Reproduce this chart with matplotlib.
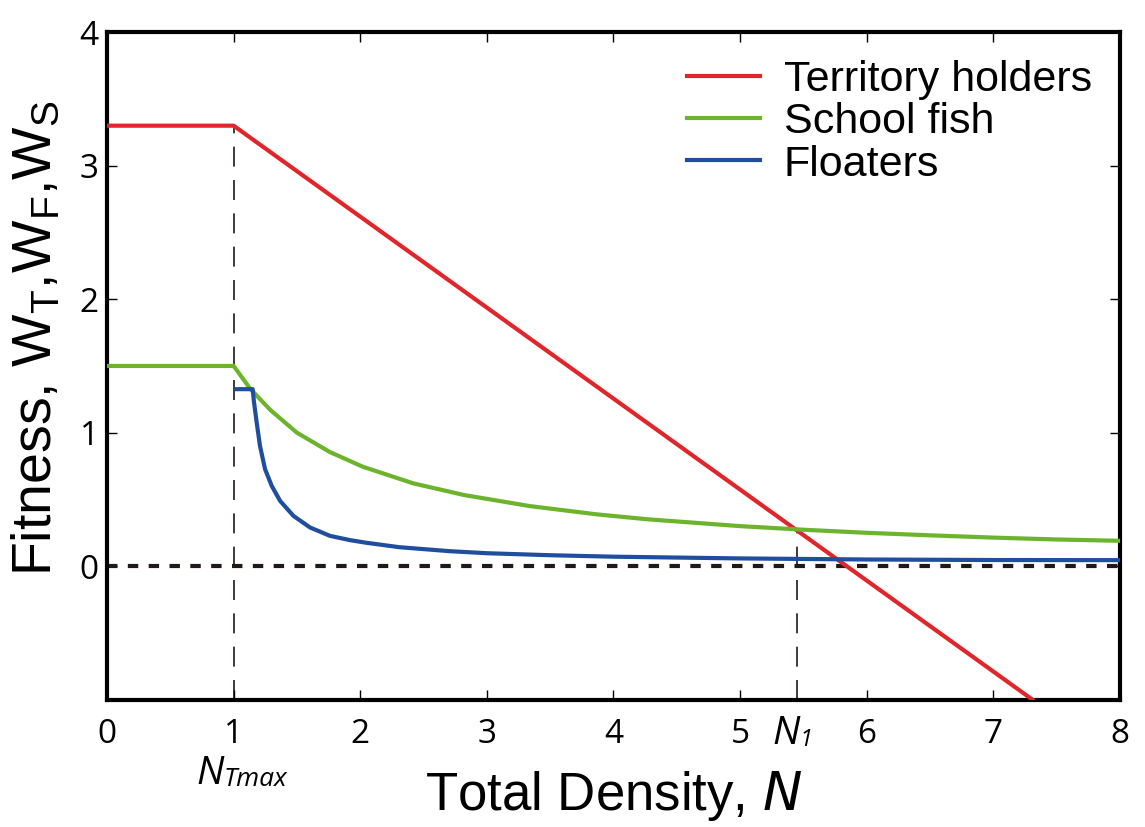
import matplotlib
matplotlib.use('Agg')
import matplotlib.pyplot as plt

# values
territory_x = [0, 1, 7.31]
territory_y = [3.3, 3.3, -1.0]

school_x = [0, 1.0, 1.13, 1.29, 1.5, 1.76, 2.02, 2.42, 2.82, 3.34, 3.87, 4.26,
            5, 5.5, 6, 6.5, 7, 7.5, 8]
school_y = [1.5, 1.5, 1.33, 1.17, 1.0, 0.855, 0.745, 0.62, 0.533, 0.45, 0.388, 0.352,
            0.3, 0.273, 0.25, 0.231, 0.214, 0.2, 0.19]

floater_x = [1.02, 1.15, 1.161, 1.182, 1.208, 1.248, 1.301, 1.367, 1.472, 1.603,
             1.761, 1.919, 2.05, 2.31, 2.71, 3, 3.5, 4, 5, 6, 7, 8]
floater_y = [1.326, 1.326, 1.226, 1.076, 0.901, 0.727, 0.601, 0.489, 0.377, 0.290,
             0.227, 0.195, 0.175, 0.142, 0.112, 0.097, 0.082, 0.071, 0.058, 0.05, 0.046, 0.045]

n_tmax = 1.0
n_1 = 5.45
n_1_y = 0.27
x_ticks = [0, 1, 2, 3, 4, 5, 6, 7, 8]
y_ticks = [0, 1, 2, 3, 4]

red = '#e0262a'
green = '#6cb42c'
blue = '#1f4e9e'
tick_font = ['Open Sans', 'DejaVu Sans']

plt.rcParams['font.family'] = ['Liberation Sans', 'DejaVu Sans']

fig = plt.figure(figsize=(11.45, 8.27), dpi=100)
ax = fig.add_axes([0.0935, 0.154, 0.8845, 0.807])

ax.plot(territory_x, territory_y, color=red, lw=3, label='Territory holders', zorder=3)
ax.plot(school_x, school_y, color=green, lw=3, label='School fish', zorder=3)
ax.plot(floater_x, floater_y, color=blue, lw=3, label='Floaters', zorder=3)

# guide lines
ax.axhline(0, color='#231815', lw=3, ls=(0, (2.5, 2.5)), zorder=2)
ax.plot([n_tmax, n_tmax], [-1, territory_y[1]], color='#231815', lw=1.2,
        ls=(0, (12, 8)), zorder=1)
ax.plot([n_1, n_1], [-1, n_1_y], color='#231815', lw=1.2,
        ls=(0, (12, 8)), zorder=1)

ax.set_xlim(0, 8)
ax.set_ylim(-1, 4)
ax.set_xticks(x_ticks)
ax.set_yticks(y_ticks)
ax.tick_params(direction='in', length=7, width=1, labelsize=24,
               top=True, right=True)
ax.tick_params(axis='x', pad=13)
ax.tick_params(axis='y', pad=6)
for lab in ax.get_xticklabels() + ax.get_yticklabels():
    lab.set_family(tick_font)
for s in ax.spines.values():
    s.set_linewidth(3)

# special x positions
ax.text(n_1 + 0.02, -1.26, 'N', fontsize=28, style='italic', ha='right', va='center',
        family=tick_font)
ax.text(n_1 + 0.02, -1.30, '1', fontsize=17, style='italic', ha='left', va='center',
        family=tick_font)
ax.text(n_tmax - 0.08, -1.56, 'N', fontsize=28, style='italic', ha='right', va='center',
        family=tick_font)
ax.text(n_tmax - 0.08, -1.60, 'Tmax', fontsize=19, style='italic', ha='left', va='center',
        family=tick_font)

ax.set_xlabel('Total Density, $\\it{N}$', fontsize=38, va='center')
ax.xaxis.set_label_coords(0.5, -0.145)
ax.set_ylabel('Fitness, W$\\mathregular{_T}$,W$\\mathregular{_F}$,W$\\mathregular{_S}$',
              fontsize=40, va='center')
ax.yaxis.set_label_coords(-0.069, 0.542)

ax.legend(loc='upper right', fontsize=31, frameon=False, handlelength=1.7,
          handletextpad=0.55, labelspacing=0.05, borderaxespad=0.25)

fig.savefig('out.png', dpi=100)
